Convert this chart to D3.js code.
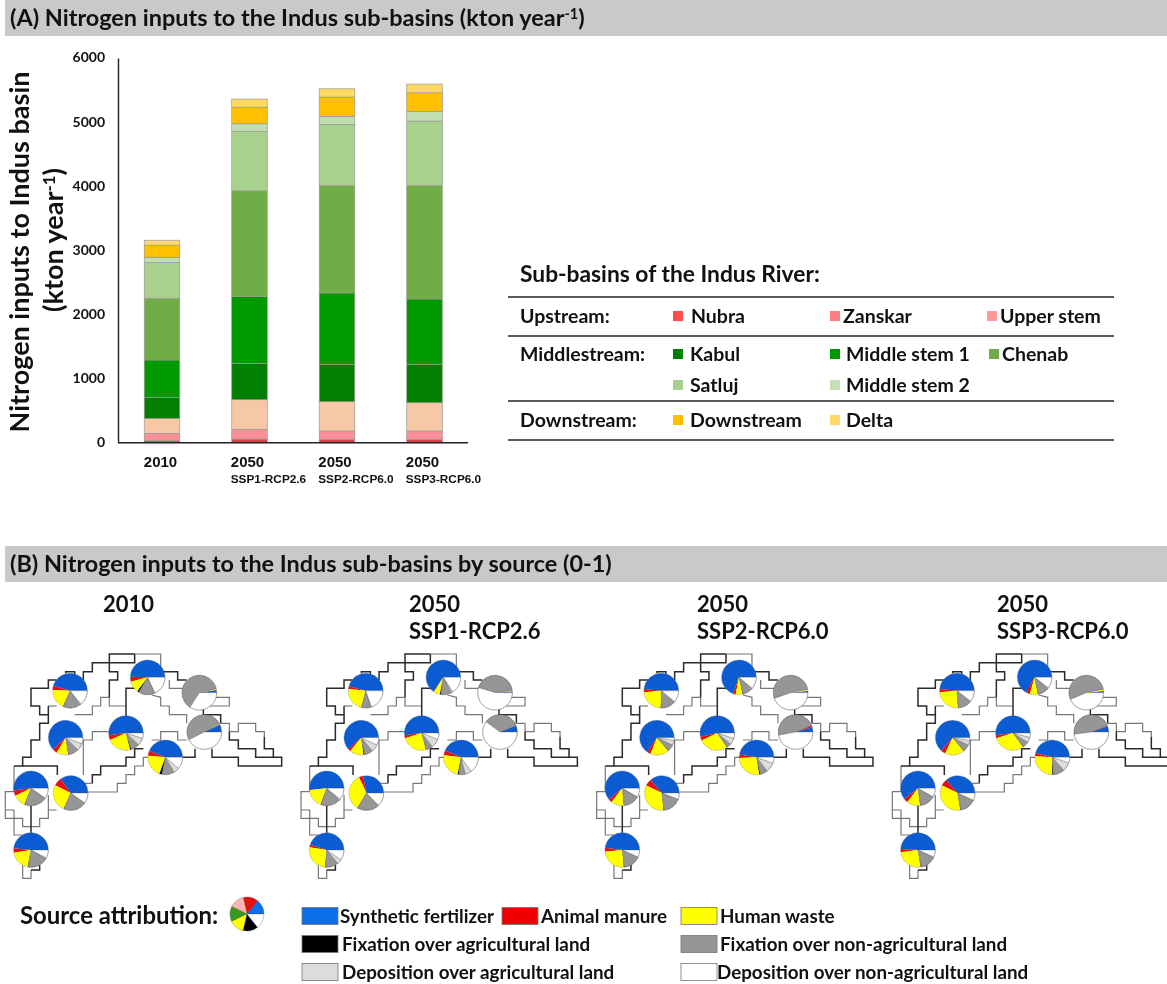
<!DOCTYPE html>
<html><head><meta charset="utf-8">
<script src="https://cdn.jsdelivr.net/npm/d3@7"></script>
<style>
html,body{margin:0;padding:0;background:#fff}
svg{display:block;font-family:Lato,"Open Sans",sans-serif;font-weight:700;fill:#111;filter:blur(0.35px)}
text{fill:#111}
</style></head><body>
<svg id="c" width="1167" height="984"></svg>
<script>
// ---------- Panel A data ----------
const scenarios = ["2010","2050a","2050b","2050c"];
const scenarioYear = ["2010","2050","2050","2050"];
const scenarioSub = ["","SSP1-RCP2.6","SSP2-RCP6.0","SSP3-RCP6.0"];
const subBasins = ["Nubra","Zanskar","Upper stem","Kabul","Middle stem 1","Chenab","Satluj","Middle stem 2","Downstream","Delta"];
const barColors = ["#d9434c","#f98f98","#f6c8a8","#007f00","#009900","#70ad47","#a9d18e","#c0deb2","#ffc000","#ffd966"];
const legendColors = ["#ff4d4d","#ff7c80","#ff9999","#007f00","#009900","#70ad47","#a9d18e","#c5e0b4","#ffc000","#ffd966"];
const nubra      = [30,57,52,52];
const zanskar    = [116,151,130,130];
const upperStem  = [234,463,458,442];
const kabul      = [328,567,583,599];
const middle1    = [582,1041,1113,1019];
const chenab     = [963,1649,1675,1769];
const satluj     = [557,926,953,1005];
const middle2    = [83,120,124,150];
const downstream = [187,260,302,292];
const delta      = [78,125,130,135];
const yTicks = [0,1000,2000,3000,4000,5000,6000];

// ---------- Panel B data ----------
// order of each row: synthetic, manure, human, fixation agri, fixation non-agri, deposition agri, deposition non-agri
const sources = ["Synthetic fertilizer","Animal manure","Human waste","Fixation over agricultural land","Fixation over non-agricultural land","Deposition over agricultural land","Deposition over non-agricultural land"];
const sourceColors = ["#0b5bd3","#e3100f","#ffff00","#000000","#969696","#dcdcdc","#ffffff"];
const sourceLegendColors = ["#0a6fe8","#f00000","#ffff00","#000000","#969696","#dcdcdc","#ffffff"];
const attributionColors = ["#0a6fe8","#e3100f","#ffb3b3","#3a9a20","#ffff00","#000000","#ffffff"];
const attributionShares = [1,1,1,1,1,1,1];
const mapTitles = [["2010"],["2050","SSP1-RCP2.6"],["2050","SSP2-RCP6.0"],["2050","SSP3-RCP6.0"]];
const basinCentres = [[210,152],[443,112],[598,158],[197,293],[378,279],[613,276],[496,352],[93,445],[212,459],[93,630]];
const shares2010 = [
 [.455,.04,.19,.005,.16,.01,.14],[.495,.045,.11,.015,.15,.005,.18],[.025,.002,.01,.003,.62,0,.34],
 [.62,.045,.11,.005,.095,.07,.055],[.52,.045,.225,.01,.08,.07,.05],[.07,.005,.003,.002,.495,0,.425],
 [.44,.045,.21,.025,.115,.055,.11],[.52,.05,.12,.005,.205,.005,.095],[.35,.075,.26,.005,.21,.003,.097],
 [.485,.04,.195,.005,.19,.01,.075]];
const sharesSSP1 = [
 [.46,.025,.225,.005,.085,.005,.195],[.655,.003,.06,.01,.1,.015,.157],[.012,.002,.006,.002,.43,0,.548],
 [.615,.025,.13,.01,.08,.07,.07],[.52,.03,.24,.005,.06,.085,.06],[.06,.002,.002,.001,.335,0,.6],
 [.435,.045,.24,.01,.06,.06,.15],[.515,.003,.175,.005,.185,.01,.107],[.28,.04,.345,.005,.2,.005,.125],
 [.45,.025,.26,.005,.12,.045,.095]];
const sharesSSP2 = [
 [.485,.03,.23,.005,.135,.005,.11],[.695,.025,.065,.005,.095,.005,.11],[.015,.003,.012,0,.525,0,.445],
 [.655,.035,.175,.005,.06,.045,.025],[.535,.035,.275,.005,.04,.06,.05],[.045,.015,0,0,.47,0,.47],
 [.475,.03,.27,.01,.07,.09,.055],[.61,.035,.12,.005,.145,.005,.08],[.365,.065,.335,.005,.17,.002,.058],
 [.48,.035,.25,.005,.16,.005,.065]];
const sharesSSP3 = [
 [.485,.03,.245,.005,.125,.005,.105],[.67,.035,.075,.005,.105,.005,.105],[.015,.002,.015,.003,.53,0,.435],
 [.635,.045,.18,.005,.065,.045,.025],[.52,.03,.3,.005,.055,.05,.04],[.055,.005,0,0,.46,0,.48],
 [.46,.03,.26,.01,.105,.085,.05],[.605,.04,.125,.005,.14,.005,.08],[.365,.065,.345,.005,.15,.002,.068],
 [.49,.03,.255,.005,.15,.005,.065]];
const mapShares = [shares2010,sharesSSP1,sharesSSP2,sharesSSP3];
// basin outlines on a 0-870 x 0-750 map grid
const outlineDark = [
 [[404,42],[328,42],[328,68],[277,68],[277,95],[250,95],[250,120]],
 [[197,100],[197,95],[224,95],[224,105]],
 [[170,120],[145,120],[145,145],[93,145],[93,198],[119,198],[119,224],[145,224],[145,198]],
 [[145,224],[145,250],[119,250],[119,300],[93,300],[93,352],[68,352],[68,378]],
 [[404,42],[404,68],[328,68],[328,95],[353,95],[353,120],[328,120],[328,172]],
 [[430,145],[378,145],[378,230]],
 [[482,95],[533,95],[533,120],[560,120]],
 [[548,352],[585,352],[585,326]],
 [[636,326],[636,352],[715,352],[715,378],[845,378],[845,352],[767,352],[767,326],[715,326],[715,300],[688,300],[688,275]],
 [[820,352],[820,326],[793,326],[793,290]],
 [[430,326],[404,326],[404,352],[378,352],[378,378],[302,378],[302,404],[277,404],[277,430]],
 [[42,378],[172,378],[172,405]],
 [[93,495],[93,585]],
 [[119,675],[119,690],[93,690]],
 [[610,198],[610,224],[662,224],[662,250]]
];
const outlineGrey = [
 [[404,42],[482,42],[482,95]],
 [[328,172],[302,172],[302,198],[277,198],[277,224],[224,224]],
 [[145,198],[170,198]],
 [[328,172],[328,198],[378,198]],
 [[455,165],[482,172],[482,198],[508,198],[508,224],[560,224],[560,250]],
 [[508,120],[508,145],[560,145],[560,172]],
 [[640,172],[688,172],[688,198],[610,198]],
 [[662,250],[688,250],[688,275],[715,275],[715,250],[767,250],[767,275],[793,275],[793,290]],
 [[560,300],[533,300],[533,275],[482,275],[482,300],[455,300]],
 [[330,275],[277,275],[277,300],[250,300],[250,405]],
 [[277,430],[250,430]],
 [[445,352],[430,352],[430,378],[404,378],[404,404],[378,404],[378,430],[352,430],[352,456],[264,456]],
 [[42,378],[42,455],[16,455],[16,535],[42,535],[42,585],[68,585]],
 [[16,510],[42,510],[42,535],[68,535],[68,560],[119,560],[119,535],[145,535],[145,510],[170,510]],
 [[145,510],[145,465]],
 [[68,675],[68,715],[93,715],[93,690]]
];

// ---------- helpers ----------
const svg = d3.select("#c");
function sup(sel, before, s, after){
  sel.append("tspan").text(before);
  sel.append("tspan").attr("font-size","0.62em").attr("dy","-0.45em").text(s);
  sel.append("tspan").attr("dy","0.28em").text(after);
}
// header bands
const bands = [[0,36],[546,36]];
svg.selectAll("rect.band").data(bands).join("rect").attr("class","band")
  .attr("x",5).attr("y",d=>d[0]).attr("width",1162).attr("height",d=>d[1]).attr("fill","#c9c9c9");
const hA = svg.append("text").attr("x",10).attr("y",26).attr("font-size",23.45);
sup(hA,"(A) Nitrogen inputs to the Indus sub-basins (kton year","-1",")");
svg.append("text").attr("x",10).attr("y",572).attr("font-size",23.4).text("(B) Nitrogen inputs to the Indus sub-basins by source (0-1)");

// ---------- stacked bars ----------
const table = scenarios.map((s,i)=>{
  const cols=[nubra,zanskar,upperStem,kabul,middle1,chenab,satluj,middle2,downstream,delta];
  const o={scenario:s}; subBasins.forEach((b,j)=>o[b]=cols[j][i]); return o;
});
const x = d3.scaleBand().domain(scenarios).range([118.25,468.25]).paddingInner(0.594).paddingOuter(0.297);
const y = d3.scaleLinear().domain([0,6000]).range([442.7,58]);
const stack = d3.stack().keys(subBasins)(table);
const colour = d3.scaleOrdinal(subBasins,barColors);
svg.append("g").selectAll("g").data(stack).join("g").attr("fill",d=>colour(d.key))
  .selectAll("rect").data(d=>d).join("rect")
  .attr("x",d=>x(d.data.scenario)).attr("width",x.bandwidth())
  .attr("y",d=>y(d[1])).attr("height",d=>y(d[0])-y(d[1]))
  .attr("stroke","#9a9a8e").attr("stroke-width",0.7);
const yAxis = svg.append("g").attr("transform","translate(118,0)")
  .call(d3.axisLeft(y).tickValues(yTicks).tickSize(0).tickPadding(13).tickFormat(d3.format("d")));
yAxis.select(".domain").attr("stroke","#222").attr("stroke-width",1.4);
yAxis.selectAll("text").attr("font-size",14).attr("font-weight",700).attr("font-family",'Lato,"Open Sans",sans-serif').attr("dy","0.28em");
const xAxis = svg.append("g").attr("transform","translate(0,442.7)")
  .call(d3.axisBottom(x).tickSize(0).tickFormat(()=>"" ));
xAxis.select(".domain").attr("d","M118,0H468").attr("stroke","#222").attr("stroke-width",1.4);
xAxis.selectAll(".tick").each(function(d,i){
  const t=d3.select(this);
  t.select("text").remove();
  t.append("text").attr("text-anchor","middle").attr("y",24).attr("x",i?-2:-1.5).attr("font-size",15).attr("font-weight",700).text(scenarioYear[i]);
  if(scenarioSub[i]) t.append("text").attr("text-anchor","start").attr("x",-x.bandwidth()/2-1).attr("y",40).attr("font-size",11.8).attr("font-weight",700).text(scenarioSub[i]);
});
svg.append("text").attr("transform","translate(29,252) rotate(-90)").attr("text-anchor","middle").attr("font-size",27).text("Nitrogen inputs to Indus basin");
const yl2 = svg.append("text").attr("transform","translate(63,240) rotate(-90)").attr("text-anchor","middle").attr("font-size",27);
sup(yl2,"(kton year","-1",")");

// ---------- sub-basin legend table ----------
svg.append("text").attr("x",520).attr("y",282).attr("font-size",22.8).text("Sub-basins of the Indus River:");
const ruleYs = [297,336,401,440];
svg.selectAll("line.rule").data(ruleYs).join("line").attr("class","rule")
  .attr("x1",508).attr("x2",1114).attr("y1",d=>d).attr("y2",d=>d).attr("stroke","#222").attr("stroke-width",1.4);
const rowHeads = [["Upstream:",323],["Middlestream:",361],["Downstream:",427]];
svg.selectAll("text.rh").data(rowHeads).join("text").attr("class","rh").attr("x",520).attr("y",d=>d[1]).attr("font-size",19.5).text(d=>d[0]);
const legendCells = [[0,673,691,323],[1,830,843,323],[2,987,1000,323],[3,673,690,361],[4,830,846,361],[5,989,1002,361],[6,673,690,392],[7,830,846,392],[8,673,690,427],[9,830,846,427]];
const lg = svg.append("g").selectAll("g").data(legendCells).join("g");
lg.append("rect").attr("x",d=>d[1]).attr("y",d=>d[3]-12).attr("width",10).attr("height",10).attr("fill",d=>legendColors[d[0]]);
lg.append("text").attr("x",d=>d[2]).attr("y",d=>d[3]).attr("font-size",19.5).text(d=>subBasins[d[0]]);

// ---------- pie maps ----------
const mapOffsets = [0,295.7,591.3,887];
const titleX = [103,409,697,997];
const pieGen = d3.pie().sort(null).value(d=>d).startAngle(Math.PI/2).endAngle(Math.PI/2-2*Math.PI);
const lineMap = (mx,my)=>d3.line().x(p=>mx(p[0])).y(p=>my(p[1]));
mapShares.forEach((shares,m)=>{
  const mx=d3.scaleLinear().domain([0,870]).range([mapOffsets[m],mapOffsets[m]+290]);
  const my=d3.scaleLinear().domain([0,750]).range([640,890]);
  const path=lineMap(mx,my);
  const g=svg.append("g");
  g.selectAll("path.g").data(outlineGrey).join("path").attr("class","g").attr("d",path).attr("fill","none").attr("stroke","#777").attr("stroke-width",1.2);
  g.selectAll("path.d").data(outlineDark).join("path").attr("class","d").attr("d",path).attr("fill","none").attr("stroke","#2a2a2a").attr("stroke-width",1.5);
  const r=mx(52)-mx(0);
  const arc=d3.arc().innerRadius(0).outerRadius(r);
  shares.forEach((row,i)=>{
    const c=basinCentres[i];
    const pg=g.append("g").attr("transform",`translate(${mx(c[0])},${my(c[1])})`);
    pg.selectAll("path").data(pieGen(row)).join("path").attr("d",arc)
      .attr("fill",(d,k)=>sourceColors[k]).attr("stroke",(d,k)=>d.value>0?(k>=4?"#555":"none"):"none").attr("stroke-width",0.35);
    pg.append("circle").attr("r",r).attr("fill","none").attr("stroke","#666").attr("stroke-width",0.5).attr("stroke-dasharray","1.5 1");
  });
  mapTitles[m].forEach((t,k)=>{
    svg.append("text").attr("x",titleX[m]).attr("y",612+k*27).attr("font-size",22).text(t);
  });
});

// ---------- source legend ----------
svg.append("text").attr("x",20).attr("y",924).attr("font-size",23.9).text("Source attribution:");
const attr=svg.append("g").attr("transform","translate(247,914)");
attr.selectAll("path").data(pieGen(attributionShares)).join("path")
  .attr("d",d3.arc().innerRadius(0).outerRadius(17)).attr("fill",(d,i)=>attributionColors[i]).attr("stroke","#444").attr("stroke-width",0.3);
const sourceCells=[[0,302,340,917],[1,502,541,917],[2,681,720,917],[3,302,342,945],[4,681,720,945],[5,302,342,973],[6,681,717,973]];
const sl=svg.append("g").selectAll("g").data(sourceCells).join("g");
sl.append("rect").attr("x",d=>d[1]).attr("y",d=>d[3]-9.5).attr("width",36).attr("height",17)
  .attr("fill",d=>sourceLegendColors[d[0]]).attr("stroke","#777").attr("stroke-width",0.8);
sl.append("text").attr("x",d=>d[2]).attr("y",d=>d[3]+6).attr("font-size",18.8).text(d=>sources[d[0]]);
</script>
</body></html>
